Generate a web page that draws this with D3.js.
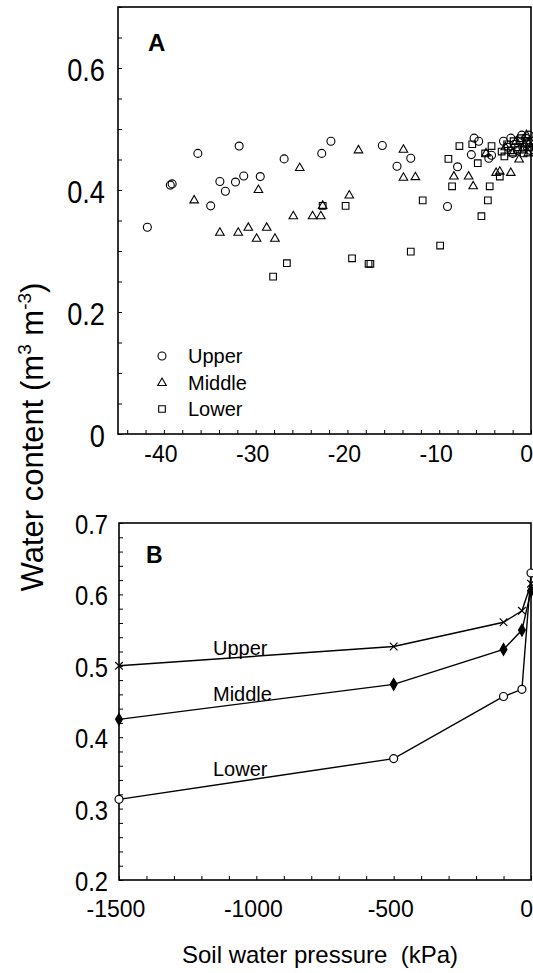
<!DOCTYPE html>
<html>
<head>
<meta charset="utf-8">
<script src="https://cdn.jsdelivr.net/npm/d3@7"></script>
<style>
  body { margin: 0; background: #fff; }
  svg { display: block; font-family: "Liberation Sans", Arial, sans-serif; }
</style>
</head>
<body>
<div id="chart"></div>
<script>
// Panel A: water content vs soil water pressure (kPa), tensiometer range
const upperA = [
    [-41.8, 0.339], [-39.3, 0.408], [-39.1, 0.410], [-36.3, 0.460], [-34.9, 0.374],
    [-33.9, 0.414], [-33.3, 0.398], [-32.2, 0.413], [-31.8, 0.472], [-31.3, 0.423],
    [-29.5, 0.422], [-26.9, 0.451], [-22.8, 0.460], [-21.8, 0.480], [-16.2, 0.473],
    [-14.6, 0.439], [-13.1, 0.452], [-9.1, 0.373], [-8.0, 0.438], [-6.5, 0.458],
    [-6.2, 0.485], [-5.7, 0.480], [-4.6, 0.452], [-4.3, 0.457], [-3.0, 0.480],
    [-2.5, 0.470], [-2.2, 0.485], [-1.8, 0.475], [-1.5, 0.465], [-1.2, 0.480],
    [-1.0, 0.490], [-0.9, 0.470], [-0.6, 0.485], [-0.4, 0.475], [-0.2, 0.490],
    [-0.1, 0.465], [-2.0, 0.460]
];
const middleA = [
    [-36.7, 0.383], [-33.9, 0.330], [-31.9, 0.330], [-30.8, 0.338], [-29.9, 0.320],
    [-29.7, 0.400], [-28.8, 0.338], [-27.9, 0.320], [-25.9, 0.357], [-25.2, 0.436],
    [-23.8, 0.357], [-22.9, 0.357], [-22.7, 0.374], [-19.8, 0.391], [-18.8, 0.465],
    [-13.9, 0.466], [-13.9, 0.420], [-12.6, 0.421], [-8.4, 0.422], [-6.8, 0.422],
    [-6.3, 0.406], [-4.9, 0.460], [-3.8, 0.428], [-3.4, 0.430], [-2.2, 0.428],
    [-1.3, 0.450], [-2.8, 0.470], [-2.0, 0.460], [-1.6, 0.480], [-1.0, 0.465],
    [-0.7, 0.475], [-0.3, 0.460], [-0.1, 0.480], [-0.5, 0.490]
];
const lowerA = [
    [-28.1, 0.258], [-26.6, 0.280], [-22.7, 0.374], [-20.2, 0.374], [-19.5, 0.288],
    [-17.7, 0.279], [-17.5, 0.279], [-13.1, 0.299], [-11.8, 0.383], [-9.9, 0.309],
    [-9.0, 0.451], [-8.6, 0.406], [-7.8, 0.472], [-6.4, 0.475], [-5.8, 0.444],
    [-5.4, 0.357], [-5.0, 0.460], [-4.7, 0.383], [-4.5, 0.406], [-4.3, 0.472],
    [-3.4, 0.422], [-3.2, 0.463], [-2.9, 0.455], [-2.6, 0.475], [-2.2, 0.465],
    [-1.9, 0.480], [-1.4, 0.470], [-1.1, 0.485], [-0.8, 0.460], [-0.5, 0.478],
    [-0.2, 0.470]
];

// Panel B: retention curves down to -1500 kPa
const pressureB = [-1500, -500, -100, -33, 0];
const upperB = [0.500, 0.527, 0.561, 0.577, 0.615];
const middleB = [0.425, 0.474, 0.523, 0.550, 0.605];
const lowerB = [0.313, 0.370, 0.457, 0.467, 0.630];

const ticksAx = [-40, -30, -20, -10, 0];
const ticksAy = [0, 0.2, 0.4, 0.6];
const ticksBx = [-1500, -1000, -500, 0];
const ticksBy = [0.2, 0.3, 0.4, 0.5, 0.6, 0.7];

const svg = d3.select("#chart").append("svg")
    .attr("width", 533)
    .attr("height", 973);

// scales
const xA = d3.scaleLinear().domain([-45, 0]).range([118, 531]);
const yA = d3.scaleLinear().domain([0, 0.7]).range([434, 7]);
const xB = d3.scaleLinear().domain([-1500, 0]).range([119, 531]);
const yB = d3.scaleLinear().domain([0.2, 0.7]).range([880, 523]);

function frame(x, y) {
    svg.append("rect")
        .attr("x", x.range()[0])
        .attr("y", y.range()[1])
        .attr("width", x.range()[1] - x.range()[0])
        .attr("height", y.range()[0] - y.range()[1])
        .attr("fill", "none")
        .attr("stroke", "#000")
        .attr("stroke-width", 1.6);
}

// inward ticks, labels drawn separately
function ticks(x, y, xMinor, yMinor) {
    svg.append("g")
        .attr("transform", `translate(0,${y.range()[0]})`)
        .call(d3.axisTop(x).tickValues(xMinor).tickSize(4).tickFormat(""))
        .call(g => g.select(".domain").remove());
    svg.append("g")
        .attr("transform", `translate(${x.range()[0]},0)`)
        .call(d3.axisRight(y).tickValues(yMinor).tickSize(4).tickFormat(""))
        .call(g => g.select(".domain").remove());
}

frame(xA, yA);
ticks(xA, yA, d3.range(-44, 0.1, 2), d3.range(0, 0.701, 0.05));
frame(xB, yB);
ticks(xB, yB, d3.range(-1500, 0.1, 100), d3.range(0.2, 0.701, 0.02));

// tick labels (y labels are tall and narrow in the original)
svg.append("g").selectAll("text")
    .data(ticksAy).join("text")
    .attr("transform", d => `translate(105,${yA(d) + 13}) scale(0.85,1)`)
    .attr("text-anchor", "end")
    .attr("font-size", 32)
    .text(d => d === 0 ? "0" : d.toFixed(1));

svg.append("g").selectAll("text")
    .data(ticksAx).join("text")
    .attr("x", d => d === 0 ? 533 : xA(d) - 3)
    .attr("y", 462)
    .attr("text-anchor", d => d === 0 ? "end" : "middle")
    .attr("font-size", 23)
    .text(d => d);

svg.append("g").selectAll("text")
    .data(ticksBy).join("text")
    .attr("transform", d => `translate(108,${yB(d) + 11}) scale(0.85,1)`)
    .attr("text-anchor", "end")
    .attr("font-size", 28)
    .text(d => d.toFixed(1));

svg.append("g").selectAll("text")
    .data(ticksBx).join("text")
    .attr("x", d => d === 0 ? 533 : xB(d) - 3)
    .attr("y", 917)
    .attr("text-anchor", d => d === 0 ? "end" : "middle")
    .attr("font-size", 23)
    .text(d => d);

// panel letters
svg.append("text").attr("x", 148).attr("y", 51)
    .attr("font-size", 24).attr("font-weight", "bold").text("A");
svg.append("text").attr("x", 146).attr("y", 563)
    .attr("font-size", 23).attr("font-weight", "bold").text("B");

// axis titles
const yTitle = svg.append("text")
    .attr("transform", "translate(43,437) rotate(-90)")
    .attr("text-anchor", "middle")
    .attr("font-size", 31);
yTitle.append("tspan").text("Water content (m");
yTitle.append("tspan").attr("dy", -12).attr("font-size", 19).text("3");
yTitle.append("tspan").attr("dy", 12).text(" m");
yTitle.append("tspan").attr("dy", -12).attr("font-size", 19).text("-3");
yTitle.append("tspan").attr("dy", 12).text(")");

svg.append("text")
    .attr("x", 320)
    .attr("y", 963)
    .attr("text-anchor", "middle")
    .attr("font-size", 24)
    .style("white-space", "pre")
    .text("Soil water pressure  (kPa)");

// symbol generators
const circle = d3.symbol().type(d3.symbolCircle).size(50);
const triangle = d3.symbol().type(d3.symbolTriangle).size(32);
const square = d3.symbol().type(d3.symbolSquare).size(44);
const cross = d3.symbol().type(d3.symbolX).size(40);
const diamond = d3.symbol().type(d3.symbolDiamond).size(40);

function scatter(data, sym) {
    svg.append("g").selectAll("path")
        .data(data).join("path")
        .attr("transform", d => `translate(${xA(d[0])},${yA(d[1])})`)
        .attr("d", sym)
        .attr("fill", "none")
        .attr("stroke", "#000")
        .attr("stroke-width", 1.1);
}
scatter(upperA, circle);
scatter(middleA, triangle);
scatter(lowerA, square);

// legend in panel A
const legendA = [["Upper", circle, 356], ["Middle", triangle, 383], ["Lower", square, 409]];
legendA.forEach(l => {
    svg.append("path")
        .attr("transform", `translate(162,${l[2]})`)
        .attr("d", l[1])
        .attr("fill", "none")
        .attr("stroke", "#000")
        .attr("stroke-width", 1.1);
    svg.append("text")
        .attr("x", 188)
        .attr("y", l[2] + 7)
        .attr("font-size", 20)
        .text(l[0]);
});

// panel B lines and markers
const line = d3.line().x(d => xB(d[0])).y(d => yB(d[1]));
function curve(values, sym, fill, label, labelY) {
    const pts = pressureB.map((p, i) => [p, values[i]]);
    svg.append("path")
        .datum(pts)
        .attr("d", line)
        .attr("fill", "none")
        .attr("stroke", "#000")
        .attr("stroke-width", 1.4);
    svg.append("g").selectAll("path")
        .data(pts).join("path")
        .attr("transform", d => `translate(${xB(d[0])},${yB(d[1])})`)
        .attr("d", sym)
        .attr("fill", fill)
        .attr("stroke", "#000")
        .attr("stroke-width", 1.2);
    svg.append("text")
        .attr("x", 213)
        .attr("y", labelY)
        .attr("font-size", 20)
        .text(label);
}
curve(upperB, cross, "none", "Upper", 655);
curve(middleB, diamond, "#000", "Middle", 701);
curve(lowerB, circle, "#fff", "Lower", 776);
</script>
</body>
</html>
